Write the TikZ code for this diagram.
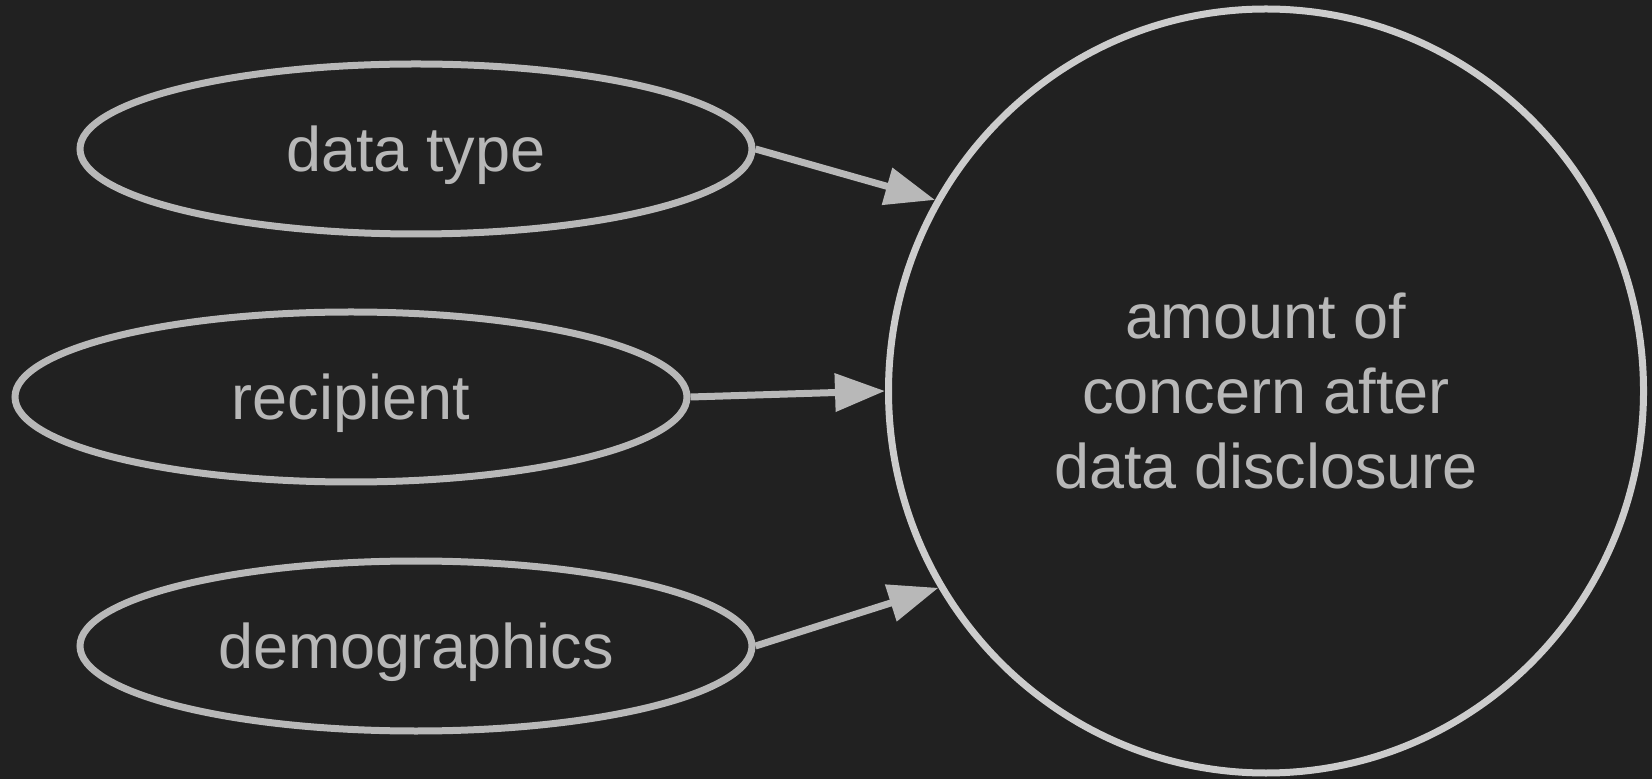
\documentclass[tikz,border=0pt]{standalone}
\usepackage{fontspec}
\setmainfont{Liberation Sans}
\usetikzlibrary{positioning,shapes.geometric,arrows.meta}
\definecolor{bgc}{HTML}{212121}
\definecolor{edgec}{HTML}{B8B8B8}
\definecolor{ringc}{HTML}{CCCCCC}
\newcommand{\lbl}{\fontsize{31.5}{37.5}\selectfont}

\begin{document}
\begin{tikzpicture}[x=0.5pt,y=-0.5pt,
  factor/.style={ellipse,draw=edgec,line width=3.5pt,text=edgec,font=\lbl,
    minimum width=336pt,minimum height=85pt,inner sep=0pt,text depth=0pt},
  outcome/.style={ellipse,draw=ringc,line width=3.5pt,text=edgec,font=\lbl,
    minimum width=377.5pt,minimum height=382pt,inner sep=0pt,align=center},
  link/.style={-{Triangle[length=25pt,width=18.5pt]},draw=edgec,fill=edgec,line width=3.5pt}]
  \fill[bgc] (0,0) rectangle (1652,779);

  \node (dtype) [factor] at (416,149) {data type};
  \node (recip) [factor] at (351,397) {recipient};
  \node (demog) [factor] at (416,646) {demographics};

  \node (concern) [outcome] at (1266,391) {amount of\\concern after\\data disclosure};

  \draw [link] (dtype.east) -- (concern.150);
  \draw [link] (recip.east) -- (concern.west);
  \draw [link] (demog.east) -- (concern.211);

\end{tikzpicture}
\end{document}
